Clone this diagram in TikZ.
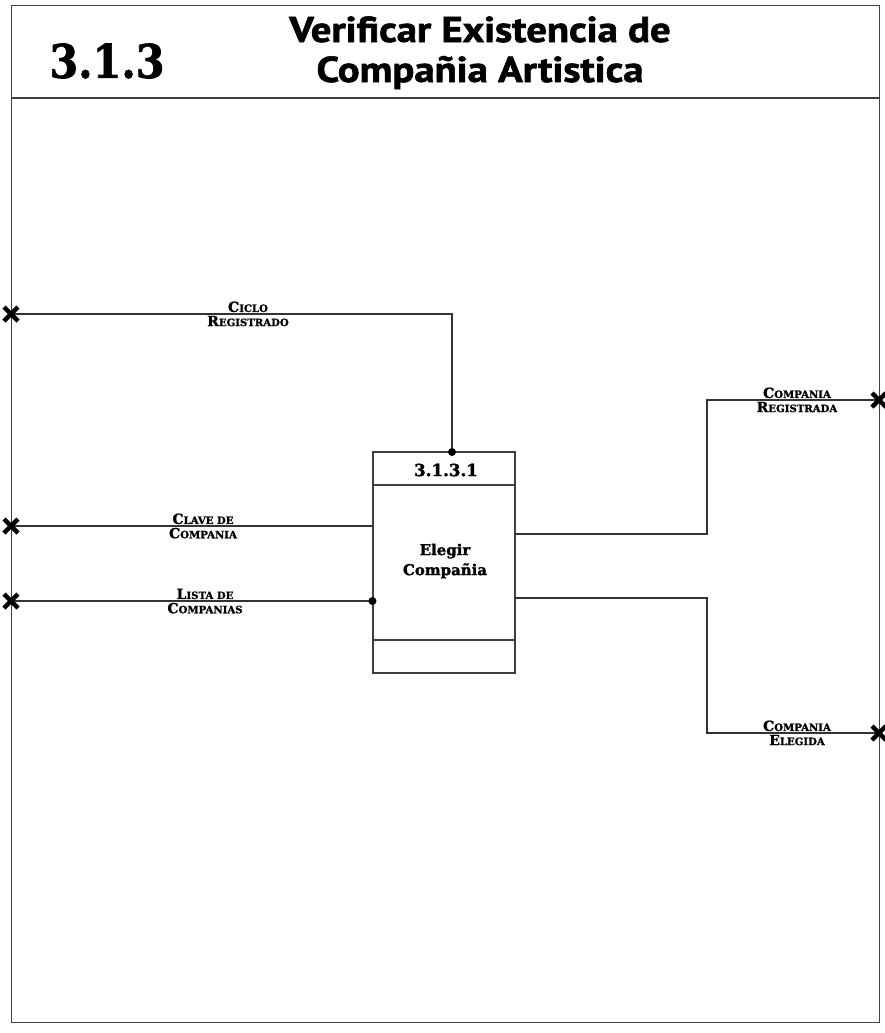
\documentclass[tikz,border=0pt]{standalone}
\usepackage{fontspec}
\setmainfont{DejaVu Serif}
\newfontfamily\heavyserif{DejaVu Serif Bold}[FakeBold=1.6]
\newfontfamily\lblfont{DejaVu Serif Bold}[FakeBold=1.2]
\newfontfamily\titlefont{PT Sans Bold}[FakeBold=1.6]
\usetikzlibrary{calc}
\newcommand\smc[2]{{\fontsize{10.5}{11}\selectfont #1}{\fontsize{7.6}{8}\selectfont #2}}
\tikzset{
  frame/.style={draw=black!75, line width=0.9pt},
  flow/.style={draw=black!80, line width=0.8pt},
  lbl/.style={font=\lblfont, inner sep=1.2pt, text=black},
  ttlline/.style={font=\titlefont\fontsize{27}{30}\selectfont, inner sep=0pt, anchor=base},
  pdot/.style={circle, fill=black, inner sep=0pt, minimum size=6pt},
}
\newcommand\drawx[1]{%
  \draw[line width=3.2pt, black] ($(#1)+(-7,-7)$) -- ($(#1)+(7,7)$);
  \draw[line width=3.2pt, black] ($(#1)+(-7,7)$) -- ($(#1)+(7,-7)$);}
\begin{document}
\begin{tikzpicture}[x=0.75pt,y=-0.75pt]
\useasboundingbox (0,0) rectangle (885,1033);
% frame
\node[frame, rectangle, minimum width=868*0.75pt, minimum height=1017*0.75pt, anchor=north west, inner sep=0pt] (fr) at (11,5) {};
\draw[frame] (11,98) -- (879,98);
\node[font=\heavyserif\fontsize{31}{31}\selectfont, inner sep=0pt] (num) at (107,61) {\scalebox{1}[1.12]{3.1.3}};
\node[ttlline] (ttl1) at (480,42) {\scalebox{1.13}[1]{Verificar Existencia de}};
\node[ttlline] (ttl2) at (480,82) {\scalebox{1.13}[1]{Compañia Artistica}};
% process box
\node[draw=black!75, line width=0.8pt, minimum width=142*0.75pt, minimum height=221*0.75pt, inner sep=0pt] (p) at (444,562.5) {};
\draw[black!75, line width=0.8pt] (373,485) -- (515,485);
\draw[black!75, line width=0.8pt] (373,640) -- (515,640);
\node[font=\heavyserif\fontsize{12.5}{12.5}\selectfont, inner sep=0pt] (pid) at (446,470) {3.1.3.1};
\node[font=\heavyserif\fontsize{11.2}{15}\selectfont, align=center, inner sep=0pt] (pname) at (445,561) {Elegir\\Compañia};
% boundary points
\coordinate (xl1) at (11,314);
\coordinate (xl2) at (11,526);
\coordinate (xl3) at (11,601);
\coordinate (xr1) at (879,400);
\coordinate (xr2) at (879,733);
\coordinate (pin1) at (452,452);
\coordinate (po1) at (515,534);
\coordinate (po2) at (515,598);
\coordinate (b1) at (707,400);
\coordinate (b2) at (707,733);
% flows
\draw[flow] (xl1) -| (pin1);
\draw[flow] (xl2) -- (xl2 -| p.west);
\draw[flow] (xl3) -- (xl3 -| p.west);
\draw[flow] (po1) -| (b1) -- (xr1);
\draw[flow] (po2) -| (b2) -- (xr2);
\node[pdot] (d1) at (pin1) {};
\node[pdot] (d2) at (xl3 -| p.west) {};
% x marks
\drawx{xl1}\drawx{xl2}\drawx{xl3}\drawx{xr1}\drawx{xr2}
% labels
\node[lbl, above] (l1a) at (248,314) {\smc{C}{ICLO}};
\node[lbl, below] (l1b) at (248,314) {\smc{R}{EGISTRADO}};
\node[lbl, above] (l2a) at (203,526) {\smc{C}{LAVE DE}};
\node[lbl, below] (l2b) at (203,526) {\smc{C}{OMPANIA}};
\node[lbl, above] (l3a) at (205,601) {\smc{L}{ISTA DE}};
\node[lbl, below] (l3b) at (205,601) {\smc{C}{OMPANIAS}};
\node[lbl, above] (l4a) at (797,400) {\smc{C}{OMPANIA}};
\node[lbl, below] (l4b) at (797,400) {\smc{R}{EGISTRADA}};
\node[lbl, above] (l5a) at (797,733) {\smc{C}{OMPANIA}};
\node[lbl, below] (l5b) at (797,733) {\smc{E}{LEGIDA}};
\end{tikzpicture}
\end{document}
